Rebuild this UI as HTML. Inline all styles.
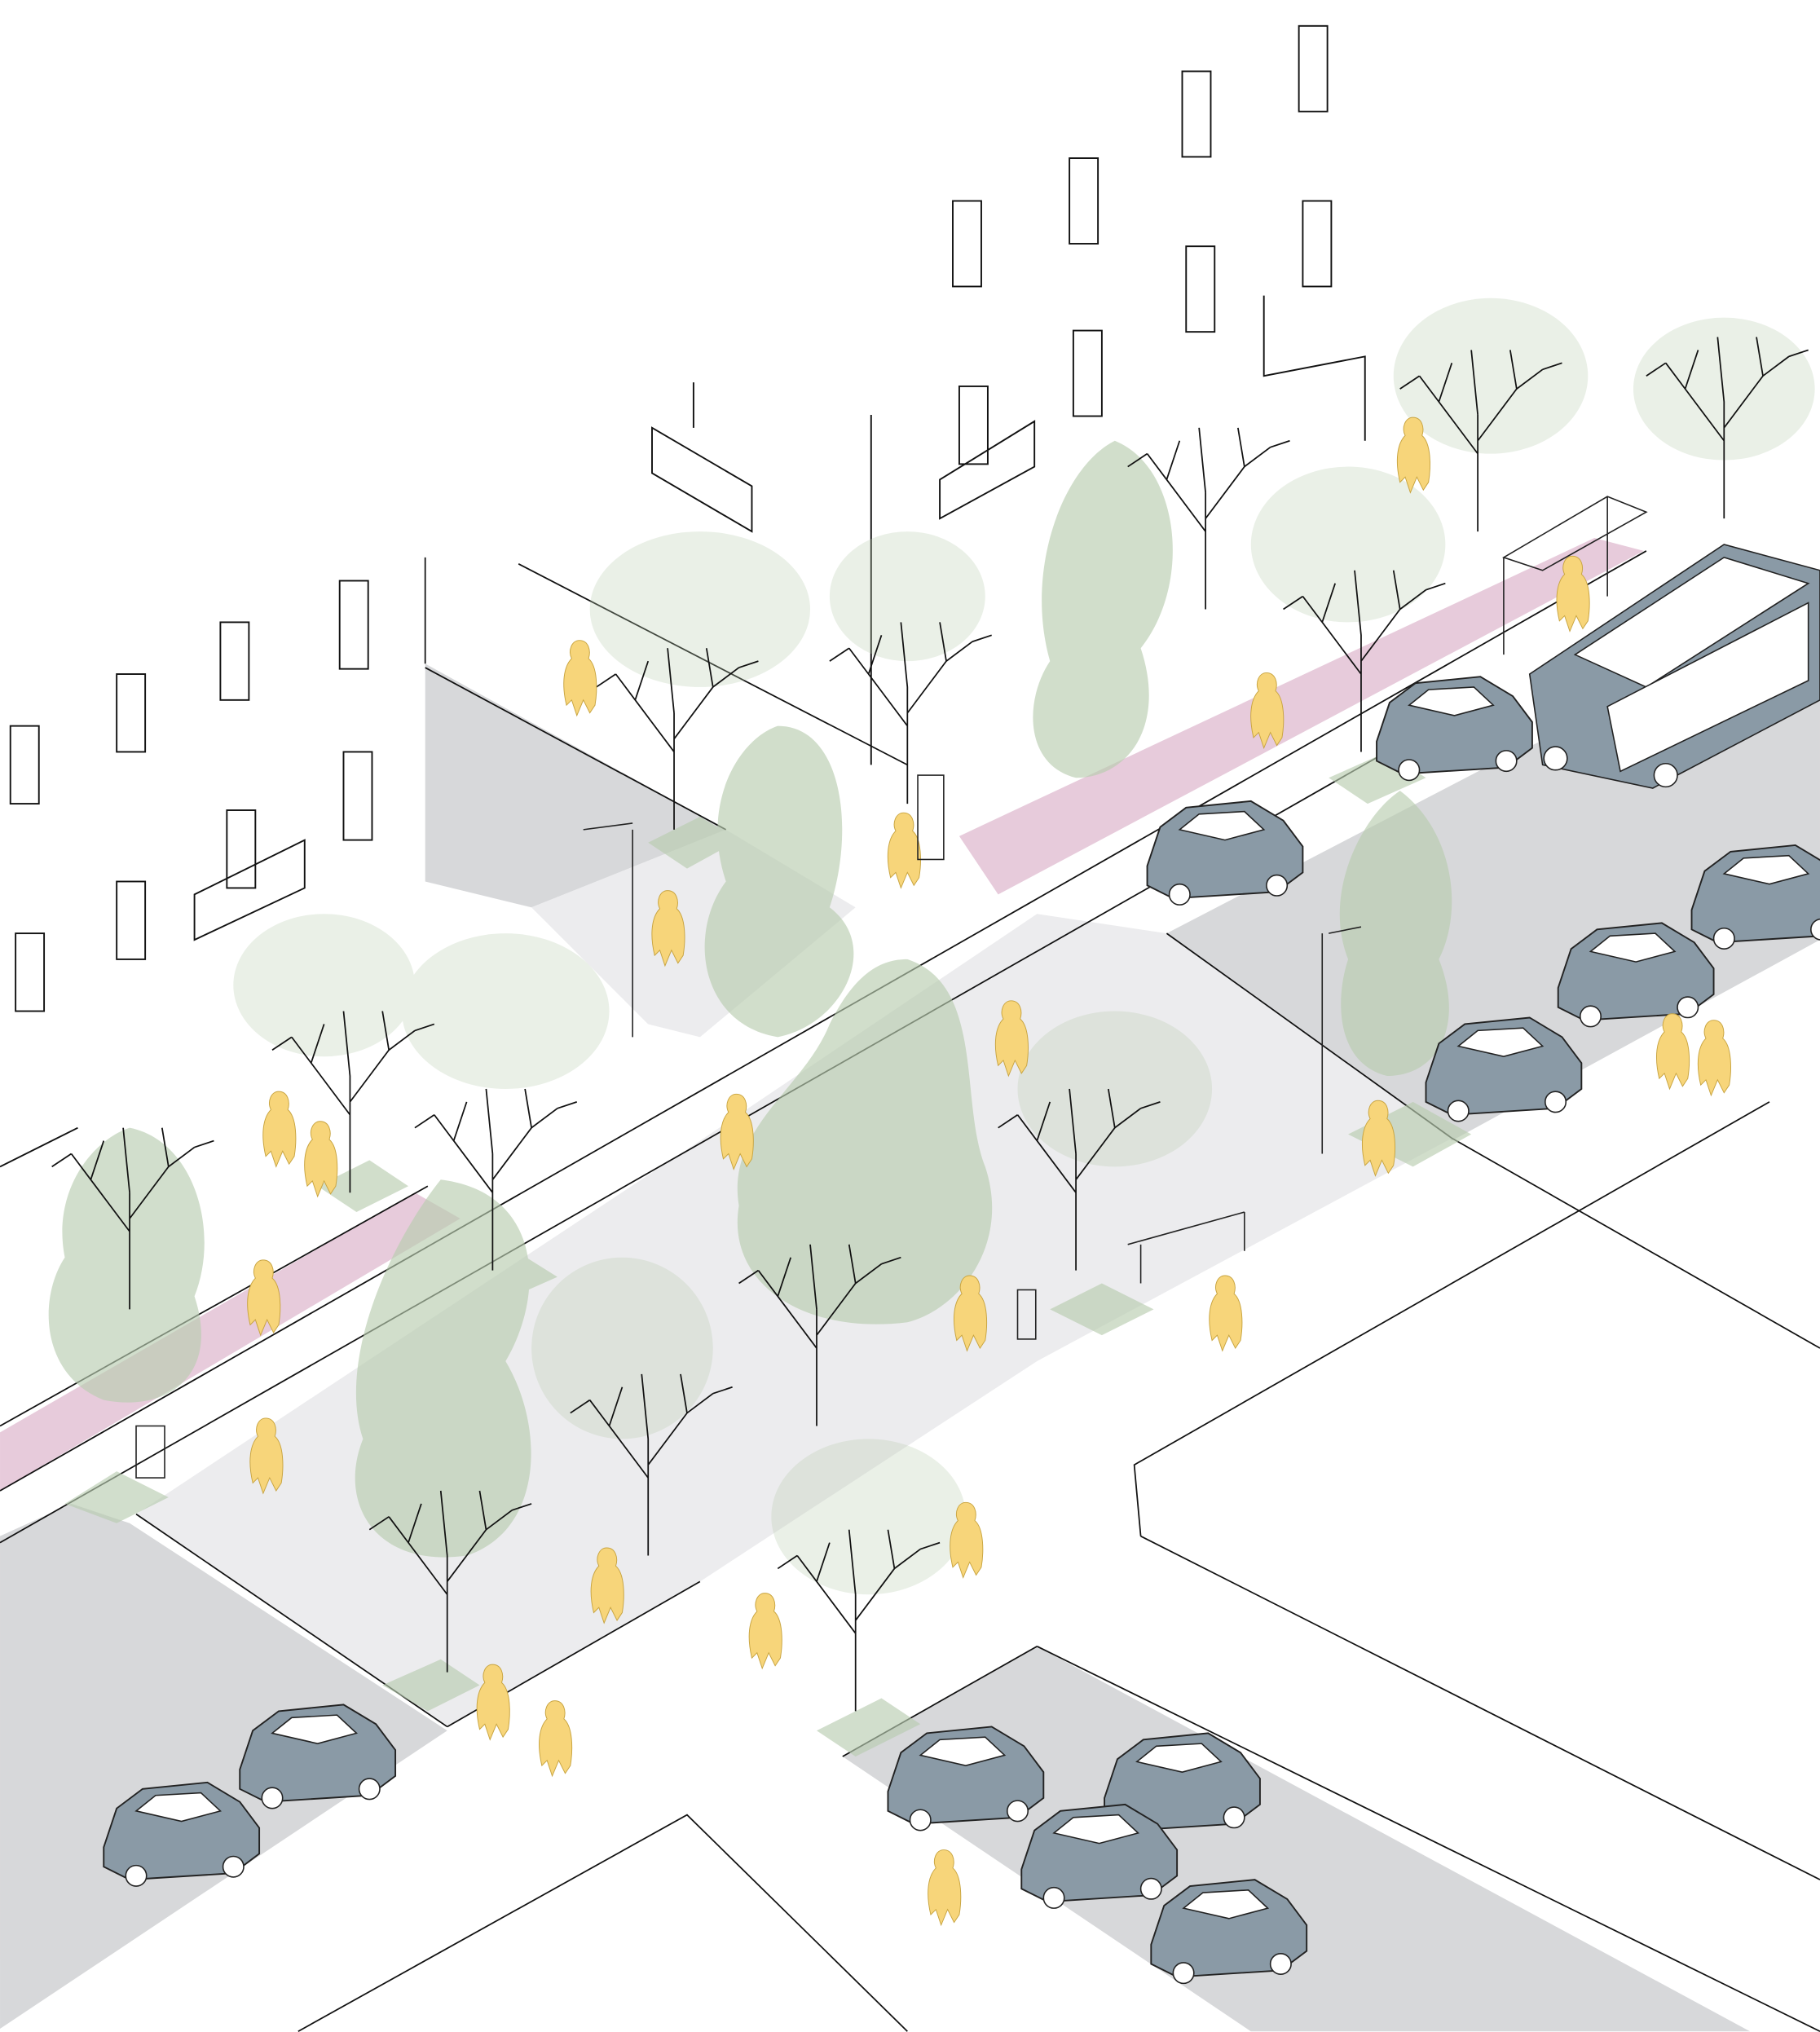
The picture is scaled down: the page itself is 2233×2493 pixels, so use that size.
<!DOCTYPE html>
<html><head><meta charset="utf-8"><style>html,body{margin:0;padding:0;background:#fff}svg{display:block}</style></head><body>
<svg width="2233" height="2493" viewBox="0 0 1404 1567.5" xmlns="http://www.w3.org/2000/svg">
<defs>
<g id="car"><path d="M-60,10 L-50,-20 L-30,-35 L20,-40 L45,-25 L60,-5 L60,15 L40,30 L-40,35 L-60,25Z" fill="#8a9aa6" stroke="#222" stroke-width="1.2"/><path d="M-35,-18 L-20,-30 L15,-32 L30,-18 L0,-10Z" fill="#fff" stroke="#222" stroke-width="1"/><circle cx="-35" cy="32" r="8" fill="#fff" stroke="#222"/><circle cx="40" cy="25" r="8" fill="#fff" stroke="#222"/></g>
<g id="p"><path d="M0,-28 C7,-28 9,-20 7,-14 C14,-8 14,10 12,22 L8,28 L3,18 L-2,30 L-6,18 L-10,22 C-14,5 -12,-8 -6,-14 C-9,-20 -6,-28 0,-28Z" fill="#f7d57a" stroke="#c8a440" stroke-width=".6"/></g>
<g id="t" fill="none" stroke="#111" stroke-width="1.1"><path d="M0,0 L0,-90 M0,-60 L-30,-100 L-45,-120 M-30,-100 L-20,-130 M0,-70 L30,-110 L50,-125 M30,-110 L25,-140 M0,-90 L-5,-140 M-45,-120 L-60,-110 M50,-125 L65,-130"/></g>
</defs>
<polygon points="0,1185 55,1160 100,1175 345,1335 0,1565" fill="#d7d8da"/>
<polygon points="650,1355 800,1270 1350,1567 965,1567" fill="#d7d8da"/>
<polygon points="328,512 560,640 410,700 328,680" fill="#d7d8da"/>
<polygon points="900,720 1150,590 1404,470 1404,725 1120,880" fill="#d7d8da"/>
<polygon points="105,1168 540,880 800,705 900,720 1120,878 800,1050 540,1220 345,1332" fill="#ececee"/>
<polygon points="410,700 560,640 660,700 540,800 500,790" fill="#ececee"/>
<polygon points="740,645 1230,415 1268,425 770,690" fill="#e7cbdb"/>
<polygon points="0,1105 320,920 355,940 0,1150" fill="#e7cbdb"/>
<g fill="none" stroke="#111" stroke-width="1.1">
<path d="M0,1190 L1140,540 M0,1150 L1270,425 M0,1100 L330,915 M328,512 L328,430 M328,515 L560,640 M400,435 L700,590 M540,1220 L345,1332 M800,1270 L1404,1567 M650,1355 L800,1270 M880,1185 L1404,1450 M880,1185 L875,1130 L1365,850 M230,1567 L530,1400 L700,1567 M105,1168 L345,1332 M1120,878 L1404,1040 M900,720 L1120,878"/>
</g>
<g fill="none" stroke="#111" stroke-width="1.2">
<rect x="8" y="560" width="22" height="60"/><rect x="90" y="520" width="22" height="60"/><rect x="170" y="480" width="22" height="60"/><rect x="262" y="448" width="22" height="68"/>
<rect x="265" y="580" width="22" height="68"/><rect x="12" y="720" width="22" height="60"/><rect x="90" y="680" width="22" height="60"/><rect x="175" y="625" width="22" height="60"/>
<rect x="735" y="155" width="22" height="66"/><rect x="825" y="122" width="22" height="66"/><rect x="912" y="55" width="22" height="66"/><rect x="1002" y="20" width="22" height="66"/>
<rect x="828" y="255" width="22" height="66"/><rect x="915" y="190" width="22" height="66"/><rect x="1005" y="155" width="22" height="66"/><rect x="740" y="298" width="22" height="60"/>
<path d="M503,330 L580,375 L580,410 L503,365Z M535,295 L535,330 M725,370 L798,325 L798,360 L725,400Z M150,690 L235,648 L235,685 L150,725Z M975,228 L975,290 L1053,275 L1053,340 M672,320 L672,590 M0,900 L60,870"/>
</g>
<g fill="#b9cdb0" opacity=".65">
<path d="M600,560 C650,560 660,640 640,700 C680,730 650,790 600,800 C540,790 530,720 560,680 C540,620 570,570 600,560Z"/>
<path d="M700,740 C760,760 740,850 760,900 C780,960 740,1010 700,1020 C620,1030 560,990 570,930 C560,870 620,840 640,790 C660,750 680,740 700,740Z"/>
<path d="M340,910 C420,920 420,1000 390,1050 C420,1100 420,1180 360,1200 C290,1210 260,1160 280,1110 C260,1050 300,960 340,910Z"/>
<path d="M1080,610 C1120,640 1130,700 1110,740 C1130,790 1110,830 1070,830 C1030,820 1030,770 1040,740 C1020,690 1050,630 1080,610Z"/>
<path d="M860,340 C910,360 920,450 880,500 C900,560 870,600 830,600 C790,590 790,540 810,510 C790,440 820,360 860,340Z"/>
<path d="M100,870 C150,880 170,950 150,1000 C170,1060 130,1090 80,1080 C30,1060 30,1000 50,970 C40,920 70,880 100,870Z"/>
<g opacity=".45">
<ellipse cx="540" cy="470" rx="85" ry="60"/><ellipse cx="1150" cy="290" rx="75" ry="60"/><ellipse cx="1330" cy="300" rx="70" ry="55"/>
<ellipse cx="390" cy="780" rx="80" ry="60"/><ellipse cx="250" cy="760" rx="70" ry="55"/><ellipse cx="670" cy="1170" rx="75" ry="60"/><ellipse cx="860" cy="840" rx="75" ry="60"/>
<ellipse cx="480" cy="1040" rx="70" ry="70"/><ellipse cx="1040" cy="420" rx="75" ry="60"/><ellipse cx="700" cy="460" rx="60" ry="50"/>
</g>
<polygon points="500,650 540,630 570,648 530,670"/><polygon points="295,1300 340,1280 370,1300 330,1320"/><polygon points="630,1335 680,1310 710,1330 660,1355"/><polygon points="50,1160 90,1135 130,1155 90,1175"/><polygon points="340,985 390,960 430,985 385,1005"/><polygon points="810,1010 850,990 890,1010 850,1030"/><polygon points="245,915 285,895 315,915 275,935"/><polygon points="1040,875 1090,850 1135,875 1090,900"/><polygon points="1025,600 1070,580 1100,600 1055,620"/>
</g>
<use href="#t" x="520" y="640"/><use href="#t" x="700" y="620"/><use href="#t" x="380" y="980"/><use href="#t" x="830" y="980"/><use href="#t" x="500" y="1200"/>
<use href="#t" x="660" y="1320"/><use href="#t" x="100" y="1010"/><use href="#t" x="270" y="920"/><use href="#t" x="1140" y="410"/><use href="#t" x="1330" y="400"/>
<use href="#t" x="1050" y="580"/><use href="#t" x="930" y="470"/><use href="#t" x="630" y="1100"/><use href="#t" x="345" y="1290"/>
<use href="#car" x="140" y="1415"/><use href="#car" x="245" y="1355"/><use href="#car" x="745" y="1372"/><use href="#car" x="912" y="1377"/><use href="#car" x="848" y="1432"/><use href="#car" x="948" y="1490"/>
<use href="#car" x="945" y="658"/><use href="#car" x="1122" y="562"/><use href="#car" x="1160" y="825"/><use href="#car" x="1262" y="752"/><use href="#car" x="1365" y="692"/>
<path d="M1180,520 L1330,420 L1404,440 L1404,540 L1290,600 L1275,608 L1190,590Z" fill="#8a9aa6" stroke="#222"/>
<path d="M1215,505 L1330,430 L1395,450 L1270,530Z" fill="#fff" stroke="#222"/>
<path d="M1240,545 L1395,465 L1395,525 L1250,595Z" fill="#fff" stroke="#222"/>
<circle cx="1200" cy="585" r="9" fill="#fff" stroke="#222"/><circle cx="1285" cy="598" r="9" fill="#fff" stroke="#222"/>
<path d="M1160,430 L1240,383 L1270,395 L1190,440 Z M1160,430 L1160,505 M1240,383 L1240,460" fill="none" stroke="#222"/>
<g>
<use href="#p" x="447" y="522"/><use href="#p" x="1090" y="350"/><use href="#p" x="697" y="655"/><use href="#p" x="515" y="715"/><use href="#p" x="780" y="800"/>
<use href="#p" x="215" y="870"/><use href="#p" x="247" y="893"/><use href="#p" x="203" y="1000"/><use href="#p" x="568" y="872"/><use href="#p" x="205" y="1122"/>
<use href="#p" x="748" y="1012"/><use href="#p" x="945" y="1012"/><use href="#p" x="468" y="1222"/><use href="#p" x="590" y="1257"/><use href="#p" x="745" y="1187"/>
<use href="#p" x="728" y="1455"/><use href="#p" x="1290" y="810"/><use href="#p" x="1322" y="815"/><use href="#p" x="1063" y="877"/><use href="#p" x="977" y="547"/>
<use href="#p" x="1213" y="457"/><use href="#p" x="380" y="1312"/><use href="#p" x="428" y="1340"/>
</g>
<g fill="none" stroke="#222" stroke-width="1"><rect x="785" y="995" width="14" height="38"/><rect x="105" y="1100" width="22" height="40"/><rect x="708" y="598" width="20" height="65"/><path d="M870,960 L960,935 M880,990 L880,960 M960,965 L960,935 M488,640 L488,800 M1020,720 L1020,890 M450,640 L488,635 M1025,720 L1050,715"/></g>
</svg>
</body></html>
